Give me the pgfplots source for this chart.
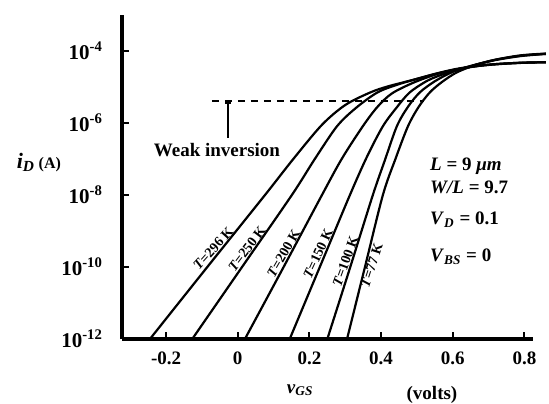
\documentclass[border=0pt]{standalone}
\usepackage{pgfplots}
\pgfplotsset{compat=1.18}
\usepackage{fontspec}
\setmainfont{Liberation Serif}

\tikzset{curve/.style={black, line width=1.1pt, smooth, no markers, solid}}

\begin{document}
\begin{tikzpicture}
  \useasboundingbox (-61pt,-32pt) rectangle (213.5pt,169.5pt);
  \begin{axis}[
      at={(0,0)}, anchor=south west,
      scale only axis, width=205.5pt, height=162pt,
      axis lines=left, axis line style={-, line width=2.2pt},
      xmin=-0.323, xmax=0.824, ymin=-12, ymax=-3,
      clip=false,
      xtick={-0.2,0,0.2,0.4,0.6,0.8},
      xticklabels={-0.2,0,0.2,0.4,0.6,0.8},
      ytick={-12,-10,-8,-6,-4},
      yticklabels={10\textsuperscript{-12},10\textsuperscript{-10},10\textsuperscript{-8},10\textsuperscript{-6},10\textsuperscript{-4}},
      tick align=inside, major tick length=3.5pt,
      tick style={line width=1pt, black},
      ticklabel style={font=\fontsize{9.5}{11}\selectfont\bfseries},
      xticklabel style={yshift=-3pt},
      yticklabel style={xshift=-6pt, font=\fontsize{10.5}{12}\selectfont\bfseries},
    ]
    % T = 296 K
    \addplot[curve] coordinates {(-0.245,-12)(-0.085,-10)(0.076,-8)(0.155,-7)(0.235,-6.05)(0.30,-5.5)(0.37,-5.15)(0.42,-4.98)(0.49,-4.8)(0.556,-4.62)(0.62,-4.48)(0.70,-4.38)(0.78,-4.33)(0.86,-4.31)};
    % T = 250 K
    \addplot[curve] coordinates {(-0.127,-12)(0.012,-10)(0.151,-8)(0.215,-7)(0.277,-6.09)(0.33,-5.58)(0.39,-5.15)(0.45,-4.92)(0.52,-4.72)(0.58,-4.57)(0.64,-4.46)(0.70,-4.38)(0.78,-4.33)(0.86,-4.31)};
    % T = 200 K
    \addplot[curve] coordinates {(0.02,-12)(0.128,-10)(0.235,-8)(0.29,-7)(0.349,-6.09)(0.39,-5.55)(0.43,-5.18)(0.49,-4.88)(0.55,-4.66)(0.60,-4.53)(0.66,-4.43)(0.72,-4.37)(0.79,-4.33)(0.86,-4.31)};
    % T = 150 K
    \addplot[curve] coordinates {(0.145,-12)(0.229,-10)(0.313,-8)(0.36,-6.95)(0.405,-6.09)(0.445,-5.55)(0.48,-5.15)(0.53,-4.82)(0.58,-4.62)(0.62,-4.5)(0.66,-4.39)(0.72,-4.25)(0.79,-4.14)(0.86,-4.08)};
    % T = 100 K
    \addplot[curve] coordinates {(0.25,-12)(0.314,-10)(0.377,-8)(0.41,-7.05)(0.444,-6.09)(0.475,-5.55)(0.508,-5.15)(0.55,-4.84)(0.60,-4.58)(0.66,-4.39)(0.72,-4.24)(0.79,-4.13)(0.86,-4.08)};
    % T = 77 K
    \addplot[curve] coordinates {(0.305,-12)(0.355,-10)(0.405,-8)(0.44,-7.0)(0.475,-6.09)(0.505,-5.55)(0.536,-5.15)(0.57,-4.86)(0.61,-4.6)(0.66,-4.4)(0.72,-4.24)(0.79,-4.12)(0.86,-4.07)};

    % weak inversion marker
    \draw[line width=1pt, dash pattern=on 3.5pt off 3pt] (axis cs:-0.072,-5.38) -- (axis cs:0.52,-5.38);
    \draw[line width=1.2pt] (axis cs:-0.035,-5.45) -- (axis cs:-0.02,-5.45);
    \draw[line width=1.2pt] (axis cs:-0.027,-5.45) -- (axis cs:-0.027,-6.42);
    \node[font=\fontsize{9.5}{11}\selectfont\bfseries] at (axis cs:-0.058,-6.75) {Weak inversion};

    % curve labels
    \begin{scope}[every node/.style={font=\fontsize{7}{8}\selectfont\bfseries, inner sep=0.6pt}]
      \node[anchor=south, rotate=48] at (axis cs:-0.055,-9.6) {\textit{T}=296 K};
      \node[anchor=south, rotate=53] at (axis cs:0.04,-9.6) {\textit{T}=250 K};
      \node[anchor=south, rotate=60] at (axis cs:0.143,-9.7) {\textit{T}=200 K};
      \node[anchor=south, rotate=65] at (axis cs:0.24,-9.7) {\textit{T}=150 K};
      \node[anchor=south, rotate=70] at (axis cs:0.317,-9.9) {\textit{T}=100 K};
      \node[anchor=north, rotate=72] at (axis cs:0.357,-9.9) {\textit{T}=77 K};
    \end{scope}

    % parameters
    \begin{scope}[every node/.style={font=\fontsize{9.5}{11}\selectfont\bfseries, anchor=west, inner sep=0pt}]
      \node at (axis cs:0.536,-7.2) {\textit{L} = 9 \textit{μm}};
      \node at (axis cs:0.536,-7.79) {\textit{W/L} = 9.7};
      \node at (axis cs:0.536,-8.68) {\textit{V}\textsubscript{\textit{D}} = 0.1};
      \node at (axis cs:0.536,-9.71) {\textit{V}\textsubscript{\textit{BS}} = 0};
    \end{scope}

    % axis labels
    \node[font=\fontsize{11}{13}\selectfont\bfseries] at (axis cs:-0.555,-7.09) {\textit{i}\textsubscript{\textit{D}}\,{\footnotesize (A)}};
    \node[font=\fontsize{9.5}{11}\selectfont\bfseries] at (axis cs:0.174,-13.42) {\textit{v}\textsubscript{\textit{GS}}};
    \node[font=\fontsize{9.5}{11}\selectfont\bfseries] at (axis cs:0.542,-13.55) {(volts)};
  \end{axis}
\end{tikzpicture}
\end{document}
